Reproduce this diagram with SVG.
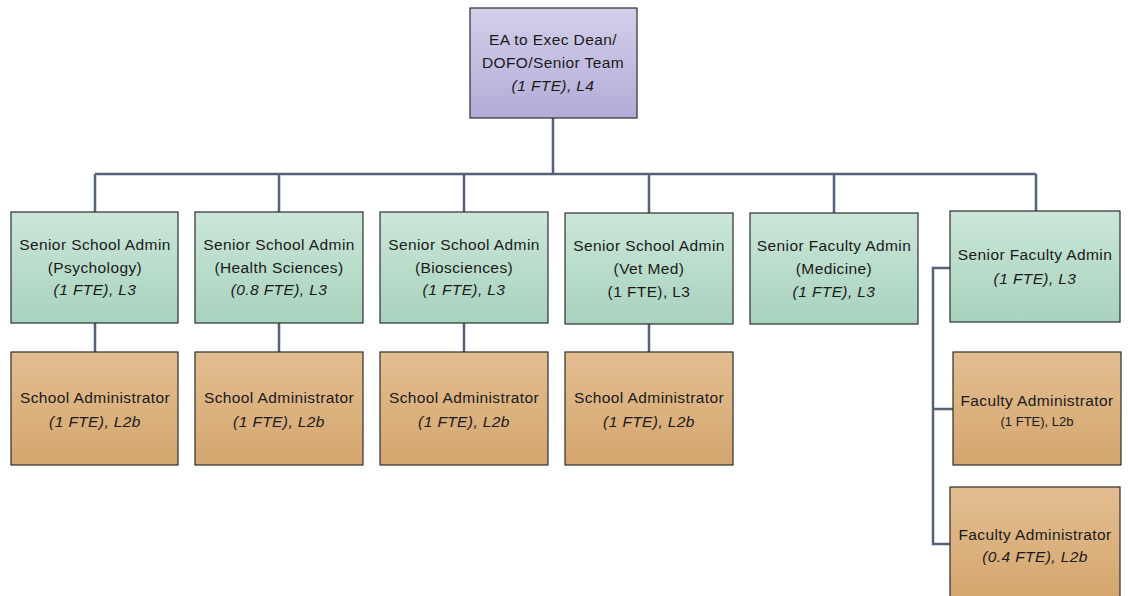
<svg xmlns="http://www.w3.org/2000/svg" width="1128" height="596" viewBox="0 0 1128 596">
<defs>
<linearGradient id="gP" x1="0" y1="0" x2="0" y2="1"><stop offset="0" stop-color="#d3cfea"/><stop offset="1" stop-color="#b3acd8"/></linearGradient>
<linearGradient id="gG" x1="0" y1="0" x2="0" y2="1"><stop offset="0" stop-color="#cbe6d8"/><stop offset="1" stop-color="#a8d3be"/></linearGradient>
<linearGradient id="gO" x1="0" y1="0" x2="0" y2="1"><stop offset="0" stop-color="#e3be91"/><stop offset="1" stop-color="#d4a66e"/></linearGradient>
<style>
.b{stroke:#2e2e2e;stroke-width:1.2}
.p{fill:url(#gP)}.g{fill:url(#gG)}.o{fill:url(#gO)}
text{font-family:"Liberation Sans",Arial,sans-serif;font-size:15.5px;letter-spacing:0.4px;fill:#1a1a1a;text-anchor:middle}
.i{font-style:italic}
.s{font-size:13px;letter-spacing:0}
.c{fill:none;stroke:#56627a;stroke-width:2.5}
</style>
</defs>
<g id="connectors">
<path class="c" d="M553 118V174M95 174H1036M95 174V212M279 174V212M464 174V212M649 174V213M834 174V213M1036 174V211"/>
<path class="c" d="M95 323V352M279 323V352M464 323V352M649 324V352"/>
<path class="c" d="M950 268H933V544H950M933 409H953"/>
</g>
<g id="n0"><rect class="b p" x="470" y="8" width="167" height="110"/><text x="553" y="45">EA to Exec Dean/</text><text x="553" y="68">DOFO/Senior Team</text><text class="i" x="553" y="91">(1 FTE), L4</text></g>
<g id="n1"><rect class="b g" x="11" y="212" width="167" height="111"/><text x="95" y="250">Senior School Admin</text><text x="95" y="273">(Psychology)</text><text class="i" x="95" y="295">(1 FTE), L3</text></g>
<g id="n2"><rect class="b g" x="195" y="212" width="168" height="111"/><text x="279" y="250">Senior School Admin</text><text x="279" y="273">(Health Sciences)</text><text class="i" x="279" y="295">(0.8 FTE), L3</text></g>
<g id="n3"><rect class="b g" x="380" y="212" width="168" height="111"/><text x="464" y="250">Senior School Admin</text><text x="464" y="273">(Biosciences)</text><text class="i" x="464" y="295">(1 FTE), L3</text></g>
<g id="n4"><rect class="b g" x="565" y="213" width="168" height="111"/><text x="649" y="251">Senior School Admin</text><text x="649" y="274">(Vet Med)</text><text x="649" y="297">(1 FTE), L3</text></g>
<g id="n5"><rect class="b g" x="750" y="213" width="168" height="111"/><text x="834" y="251">Senior Faculty Admin</text><text x="834" y="274">(Medicine)</text><text class="i" x="834" y="297">(1 FTE), L3</text></g>
<g id="n6"><rect class="b g" x="950" y="211" width="170" height="111"/><text x="1035" y="260">Senior Faculty Admin</text><text class="i" x="1035" y="284">(1 FTE), L3</text></g>
<g id="n7"><rect class="b o" x="11" y="352" width="167" height="113"/><text x="95" y="403">School Administrator</text><text class="i" x="95" y="427">(1 FTE), L2b</text></g>
<g id="n8"><rect class="b o" x="195" y="352" width="168" height="113"/><text x="279" y="403">School Administrator</text><text class="i" x="279" y="427">(1 FTE), L2b</text></g>
<g id="n9"><rect class="b o" x="380" y="352" width="168" height="113"/><text x="464" y="403">School Administrator</text><text class="i" x="464" y="427">(1 FTE), L2b</text></g>
<g id="n10"><rect class="b o" x="565" y="352" width="168" height="113"/><text x="649" y="403">School Administrator</text><text class="i" x="649" y="427">(1 FTE), L2b</text></g>
<g id="n11"><rect class="b o" x="953" y="352" width="168" height="113"/><text x="1037" y="406">Faculty Administrator</text><text class="s" x="1037" y="426">(1 FTE), L2b</text></g>
<g id="n12"><rect class="b o" x="950" y="487" width="170" height="112"/><text x="1035" y="540">Faculty Administrator</text><text class="i" x="1035" y="562">(0.4 FTE), L2b</text></g>
</svg>
